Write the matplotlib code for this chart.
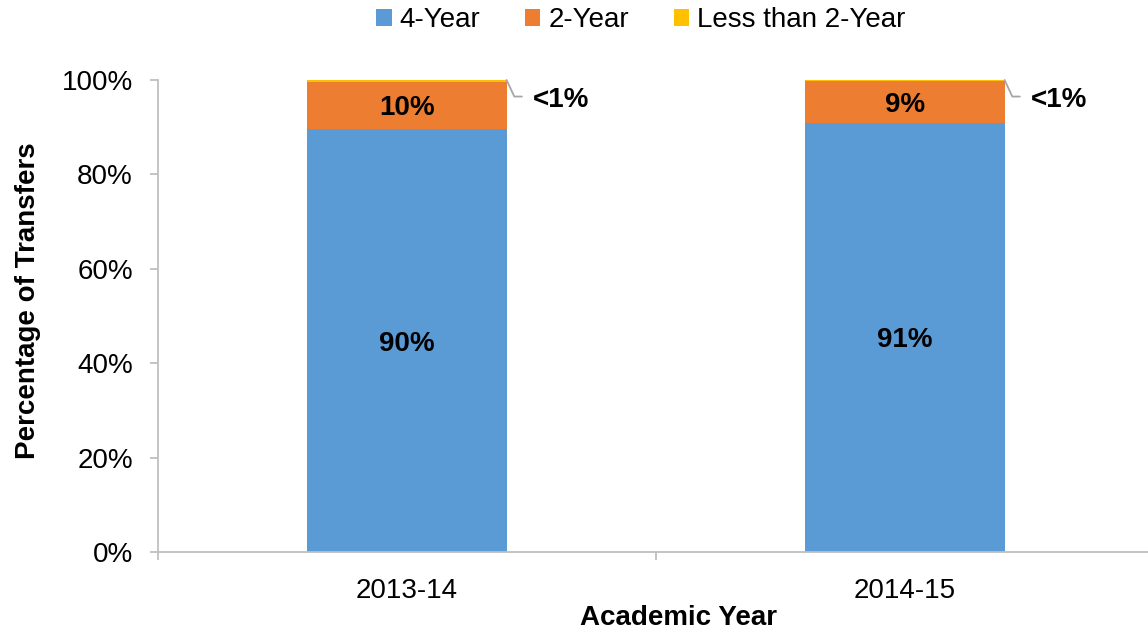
import matplotlib
matplotlib.use("Agg")
import matplotlib.pyplot as plt
import numpy as np

plt.rcParams["font.family"] = ["Liberation Sans", "DejaVu Sans"]

years = ["2013-14", "2014-15"]
four_year = [89.6, 90.9]
two_year = [10.0, 8.9]
less_two_year = [0.4, 0.2]
series_names = ["4-Year", "2-Year", "Less than 2-Year"]
colors = ["#5B9BD5", "#ED7D31", "#FFC000"]
yticks = [0, 20, 40, 60, 80, 100]

fig = plt.figure(figsize=(11.48, 6.33), dpi=100)
ax = fig.add_axes([158 / 1148, 81 / 633, 996 / 1148, 472 / 633])

x = np.arange(len(years))
width = 0.4
bottoms = np.zeros(len(years))
handles = []
for name, vals, col in zip(series_names, [four_year, two_year, less_two_year], colors):
    bars = ax.bar(x, vals, width, bottom=bottoms, color=col, label=name)
    handles.append(bars)
    bottoms = bottoms + np.array(vals)

# value labels in segments
for xi, v in zip(x, four_year):
    ax.text(xi, v / 2, f"{v:.0f}%", ha="center", va="center_baseline", fontsize=20, fontweight="bold")
for xi, base, v in zip(x, four_year, two_year):
    ax.text(xi, base + v / 2, f"{v:.0f}%", ha="center", va="center_baseline", fontsize=20, fontweight="bold")
for xi, total in zip(x, bottoms):
    ax.annotate("<1%", xy=(xi + width / 2, total), xytext=(19, -12), textcoords="offset points",
                ha="left", va="center_baseline", fontsize=20, fontweight="bold",
                arrowprops=dict(arrowstyle="-", color="#A6A6A6", lw=1.3,
                                connectionstyle="angle,angleA=0,angleB=115,rad=0",
                                relpos=(0, 0.62), shrinkA=6, shrinkB=0))

ax.set_xlim(-0.5, 1.5)
ax.set_ylim(0, 100)
ax.set_xticks(x)
ax.set_xticklabels(years)
ax.set_xticks([-0.5, 0.5, 1.5], minor=True)
ax.set_yticks(yticks)
ax.set_yticklabels([f"{t}%" for t in yticks])

for side in ["top", "right"]:
    ax.spines[side].set_visible(False)
for side in ["left", "bottom"]:
    ax.spines[side].set_color("#BFBFBF")
    ax.spines[side].set_linewidth(1.3)

ax.tick_params(axis="y", length=6, width=1.3, color="#BFBFBF", pad=12, labelsize=20)
ax.tick_params(axis="x", which="major", length=0, pad=19, labelsize=20)
ax.tick_params(axis="x", which="minor", length=6, width=1.3, color="#BFBFBF")

ax.set_xlabel("Academic Year", fontsize=20, fontweight="bold", va="center")
ax.xaxis.set_label_coords(0.523, -0.14)
ax.set_ylabel("Percentage of Transfers", fontsize=20, fontweight="bold", va="center")
ax.yaxis.set_label_coords(-0.1305, 0.532)

fig.legend(handles=handles, labels=series_names, loc="center", bbox_to_anchor=(641 / 1148, 1 - 20 / 633),
           ncol=3, frameon=False, fontsize=20, handlelength=0.55, handleheight=0.55,
           handletextpad=0.3, columnspacing=1.6)

fig.savefig("out.png", dpi=100, facecolor="white")
